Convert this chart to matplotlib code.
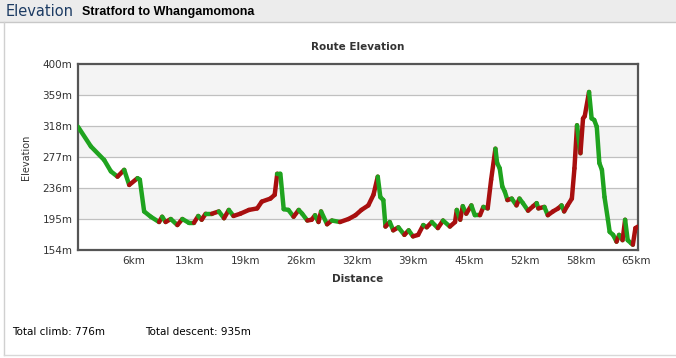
import numpy as np
from matplotlib import pyplot as plt
from matplotlib.collections import LineCollection
from matplotlib.patches import Rectangle


# Профіль маршруту (відстань, км / висота, м)
dist_km = [0.0, 1.5, 3.05, 3.83, 4.6, 5.38, 5.96, 6.93, 7.2, 7.7, 8.47, 9.44, 9.8,
           10.2, 10.8, 11.57, 12.15, 12.9, 13.5, 14.0, 14.4, 14.86, 15.6, 16.4,
           17.0, 17.56, 18.1, 18.9, 19.9, 20.86, 21.4, 22.4, 22.9, 23.2, 23.56,
           23.95, 24.5, 25.1, 25.7, 26.1, 26.7, 27.2, 27.6, 28.0, 28.3, 29.0,
           29.56, 30.5, 31.5, 32.3, 33.0, 33.8, 34.4, 34.9, 35.2, 35.55, 35.8,
           36.3, 36.7, 37.3, 38.0, 38.5, 39.0, 39.6, 40.2, 40.6, 41.2, 41.9,
           42.5, 43.3, 43.9, 44.1, 44.5, 44.8, 45.2, 45.8, 46.2, 46.8, 47.2,
           47.7, 48.1, 48.6, 48.8, 49.1, 49.4, 49.7, 50.0, 50.5, 51.05, 51.4,
           51.8, 52.4, 53.0, 53.4, 53.6, 54.3, 54.7, 55.3, 55.9, 56.3, 56.6,
           57.0, 57.5, 57.8, 58.1, 58.5, 58.8, 59.0, 59.5, 59.8, 60.1, 60.4,
           60.7, 61.0, 61.3, 61.7, 61.9, 62.3, 62.7, 63.0, 63.4, 63.7, 64.0,
           64.4, 64.6, 64.9, 65.2]
elev_m = [317, 291, 273, 258, 251, 260, 240, 249, 247, 205, 198, 191, 198,
          191, 195, 187, 195, 190, 190, 199, 194, 202, 202, 205,
          196, 207, 199, 202, 207, 209, 218, 222, 227, 255, 255,
          208, 207, 198, 207, 202, 193, 194, 200, 191, 205, 188,
          193, 191, 195, 200, 207, 213, 227, 251, 224, 220, 185,
          191, 180, 184, 174, 180, 172, 174, 187, 184, 191, 183,
          193, 185, 191, 207, 194, 212, 202, 213, 200, 200, 211,
          209, 247, 288, 269, 262, 238, 231, 220, 222, 213, 222,
          216, 206, 212, 216, 209, 211, 200, 205, 209, 213, 205,
          213, 222, 262, 319, 282, 328, 331, 363, 328, 326, 317,
          269, 260, 224, 194, 178, 174, 165, 174, 167, 194, 167,
          163, 161, 183, 185]

y_ticks = [154, 195, 236, 277, 318, 359, 400]
x_ticks = [6.5 * k for k in range(1, 11)]
x_labels = ['6km', '13km', '19km', '26km', '32km', '39km', '45km', '52km', '58km', '65km']

climb_total = 776
descent_total = 935

fig = plt.figure(figsize=(6.76, 3.58), dpi=100)
fig.patch.set_facecolor('white')

# шапка
fig.patches.append(Rectangle((0, 1 - 22 / 358), 1, 22 / 358, transform=fig.transFigure,
                             facecolor='#ececec', edgecolor='none', zorder=0))
fig.add_artist(plt.Line2D([0, 1], [1 - 22 / 358] * 2, color='#c8c8c8', lw=1))
fig.add_artist(plt.Line2D([4 / 676] * 2, [3 / 358, 1 - 22 / 358], color='#d0d0d0', lw=1))
fig.add_artist(plt.Line2D([4 / 676, 1], [3 / 358] * 2, color='#d8d8d8', lw=1))
fig.text(6 / 676, 1 - 11 / 358, 'Elevation', color='#1c3b63', fontsize=10.5,
         va='center', ha='left')
fig.text(82 / 676, 1 - 12 / 358, 'Stratford to Whangamomona', color='black',
         fontsize=9, fontweight='bold', family='Liberation Sans', va='center', ha='left')

ax = fig.add_axes([78 / 676, 108 / 358, 560 / 676, 186 / 358])
ax.set_xlim(0, 65.2)
ax.set_ylim(154, 400)

# смуги фону
for i in range(len(y_ticks) - 1):
    if i % 2 == 0:
        ax.axhspan(y_ticks[-1 - i - 1], y_ticks[-1 - i], color='#f4f4f4', zorder=0, lw=0)
for t in y_ticks[1:-1]:
    ax.axhline(t, color='#c0c0c0', lw=0.9, zorder=1)

pts = np.column_stack([dist_km, elev_m])
segs = np.stack([pts[:-1], pts[1:]], axis=1)
diff = np.diff(elev_m)
colors = ['#a80f0f' if d > 0 else '#1fa31f' for d in diff]
lc = LineCollection(segs, colors=colors, linewidths=3.2, capstyle='round',
                    joinstyle='round', zorder=3)
ax.add_collection(lc)

ax.set_yticks(y_ticks)
ax.set_yticklabels([f'{t}m' for t in y_ticks])
ax.set_xticks(x_ticks)
ax.set_xticklabels(x_labels)
ax.tick_params(length=0, labelsize=7.5, labelcolor='#333333', pad=4)
for s in ax.spines.values():
    s.set_color('#555555')
    s.set_linewidth(1.6)

ax.set_title('Route Elevation', fontsize=7.5, fontweight='bold', color='#333333', pad=10)
ax.set_xlabel('Distance', fontsize=7.5, fontweight='bold', color='#333333', labelpad=6)
ax.set_ylabel('Elevation', fontsize=7, color='#333333', labelpad=8)

fig.text(12 / 676, 1 - 332 / 358, f'Total climb: {climb_total}m', fontsize=7.5,
         color='black', va='center')
fig.text(145 / 676, 1 - 332 / 358, f'Total descent: {descent_total}m', fontsize=7.5,
         color='black', va='center')

fig.savefig('out.png', dpi=100)
